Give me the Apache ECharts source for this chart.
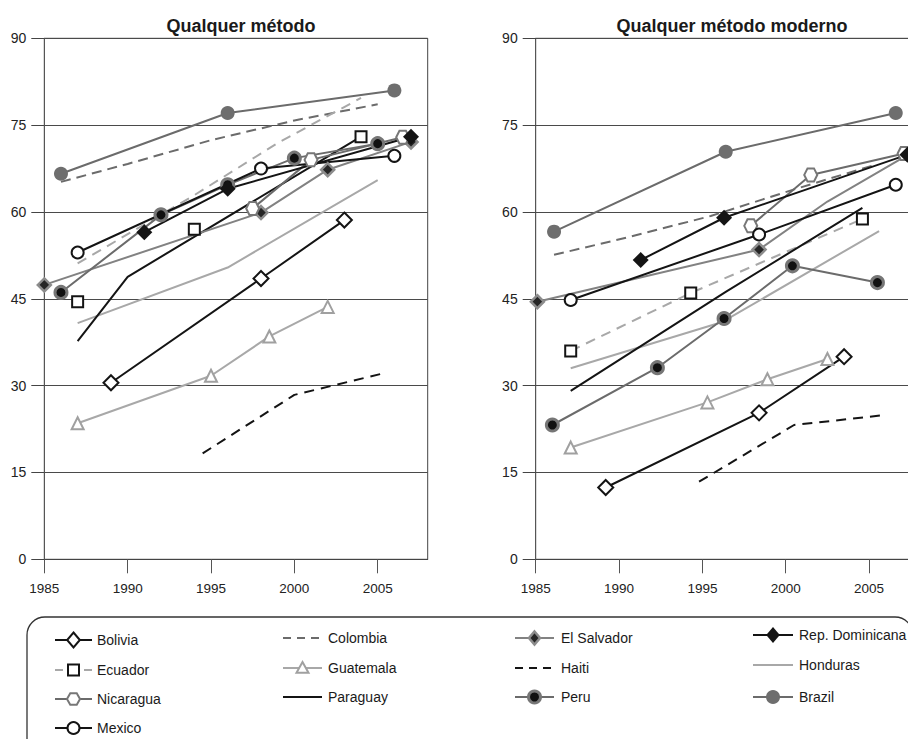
<!DOCTYPE html>
<html>
<head>
<meta charset="utf-8">
<script src="https://cdn.jsdelivr.net/npm/echarts@6/dist/echarts.min.js"></script>
<style>
  html, body { margin: 0; padding: 0; background: #fff; }
  #chart { width: 908px; height: 739px; }
</style>
</head>
<body>
<div id="chart"></div>
<script>
// Panel titles and axis ticks
const panelTitles = ['Qualquer método', 'Qualquer método moderno'];
const yearTicks = [1985, 1990, 1995, 2000, 2005];
const valueTicks = [0, 15, 30, 45, 60, 75, 90];

// Country names (legend order)
const countries = ['Bolivia', 'Colombia', 'El Salvador', 'Rep. Dominicana',
  'Ecuador', 'Guatemala', 'Haiti', 'Honduras',
  'Nicaragua', 'Paraguay', 'Peru', 'Brazil', 'Mexico'];

// Prevalence, any method: [survey year, %]
const boliviaAny = [[1989, 30.5], [1998, 48.5], [2003, 58.6]];
const colombiaAny = [[1986, 65.2], [1990, 68.3], [1995, 72.4], [2000, 75.8], [2005, 78.6]];
const elSalvadorAny = [[1985, 47.4], [1998, 59.9], [2002, 67.3], [2007, 72.1]];
const repDominicanaAny = [[1991, 56.5], [1996, 64.0], [2007, 73.0]];
const ecuadorAnyLine = [[1987, 51.1], [1994, 62.9], [1999, 71.9], [2004, 79.7]];
const ecuadorAnyPoints = [[1987, 44.5], [1994, 57.0], [2004, 73.0]];
const guatemalaAny = [[1987, 23.5], [1995, 31.7], [1998.5, 38.5], [2002, 43.6]];
const haitiAny = [[1994.5, 18.3], [2000, 28.4], [2005.3, 32.1]];
const hondurasAny = [[1987, 40.8], [1996, 50.4], [2005, 65.5]];
const nicaraguaAny = [[1997.5, 60.6], [2001, 69.0], [2006.5, 72.9]];
const paraguayAny = [[1987, 37.7], [1990, 48.8], [2004, 73.0]];
const peruAny = [[1986, 46.1], [1992, 59.5], [1996, 64.7], [2000, 69.3], [2005, 71.8]];
const brazilAny = [[1986, 66.6], [1996, 77.1], [2006, 81.0]];
const mexicoAny = [[1987, 53.0], [1998, 67.5], [2006, 69.7]];

// Prevalence, any modern method: [survey year, %]
const boliviaModern = [[1989.2, 12.4], [1998.4, 25.3], [2003.5, 35.0]];
const colombiaModern = [[1986.1, 52.6], [1990.5, 55.6], [1995.5, 59.3], [2000.5, 63.9], [2005.2, 68.0]];
const elSalvadorModern = [[1985.1, 44.5], [1998.4, 53.5], [2002.5, 61.8], [2007.3, 69.8]];
const repDominicanaModern = [[1991.3, 51.7], [1996.3, 59.0], [2007.3, 69.9]];
const ecuadorModernLine = [[1987.1, 36.0], [1994.3, 46.0], [2004.6, 58.8]];
const ecuadorModernPoints = [[1987.1, 36.0], [1994.3, 46.0], [2004.6, 58.8]];
const guatemalaModern = [[1987.1, 19.3], [1995.3, 27.1], [1998.9, 31.1], [2002.5, 34.6]];
const haitiModern = [[1994.8, 13.4], [2000.5, 23.2], [2005.9, 24.9]];
const hondurasModern = [[1987.1, 33.0], [1996.2, 41.0], [2005.6, 56.7]];
const nicaraguaModern = [[1997.9, 57.6], [2001.5, 66.4], [2007.1, 70.1]];
const paraguayModern = [[1987.1, 29.1], [1996.4, 46.2], [2004.6, 60.7]];
const peruModern = [[1986.0, 23.2], [1992.3, 33.1], [1996.3, 41.6], [2000.4, 50.7], [2005.5, 47.8]];
const brazilModern = [[1986.1, 56.6], [1996.4, 70.4], [2006.6, 77.1]];
const mexicoModern = [[1987.1, 44.8], [1998.4, 56.1], [2006.6, 64.7]];

const BLACK = '#141414';
const DARK = '#6b6b6b';
const MID = '#828282';
const LIGHT = '#a8a8a8';
const HEX = 'path://M-1,0L-0.5,-0.866L0.5,-0.866L1,0L0.5,0.866L-0.5,0.866Z';
const SANS = "'Liberation Sans', Arial, sans-serif";

// Drawing style of each country
const styles = {
  'Bolivia':         { color: BLACK, dash: null, symbol: 'diamond', size: 15, fill: '#fff', border: BLACK, bw: 2 },
  'Colombia':        { color: DARK, dash: [10, 6], symbol: 'none' },
  'El Salvador':     { color: MID, dash: null, symbol: 'diamond', size: 13, fill: '#262626', border: '#8c8c8c', bw: 2.5 },
  'Rep. Dominicana': { color: BLACK, dash: null, symbol: 'diamond', size: 16, fill: BLACK, border: BLACK, bw: 0 },
  'Ecuador':         { color: LIGHT, dash: [10, 7], symbol: 'rect', size: 11, fill: '#fff', border: BLACK, bw: 2 },
  'Guatemala':       { color: LIGHT, dash: null, symbol: 'triangle', size: 12, fill: '#fff', border: '#a0a0a0', bw: 2 },
  'Haiti':           { color: BLACK, dash: [10, 7], symbol: 'none' },
  'Honduras':        { color: LIGHT, dash: null, symbol: 'none' },
  'Nicaragua':       { color: DARK, dash: null, symbol: HEX, size: 13, fill: '#fff', border: '#777', bw: 2 },
  'Paraguay':        { color: BLACK, dash: null, symbol: 'none' },
  'Peru':            { color: DARK, dash: null, symbol: 'circle', size: 12, fill: '#111', border: '#767676', bw: 3 },
  'Brazil':          { color: DARK, dash: null, symbol: 'circle', size: 14, fill: '#6e6e6e', border: '#6e6e6e', bw: 0 },
  'Mexico':          { color: BLACK, dash: null, symbol: 'circle', size: 12, fill: '#fff', border: BLACK, bw: 2 }
};
// Points drawn on the line without a marker: [panel][country] -> point indexes
const unmarkedPoints = [{}, { 'El Salvador': [2, 3] }];

const panelData = [
  {
    'Bolivia': boliviaAny, 'Colombia': colombiaAny, 'El Salvador': elSalvadorAny,
    'Rep. Dominicana': repDominicanaAny, 'Ecuador': ecuadorAnyLine, 'Guatemala': guatemalaAny,
    'Haiti': haitiAny, 'Honduras': hondurasAny, 'Nicaragua': nicaraguaAny, 'Paraguay': paraguayAny,
    'Peru': peruAny, 'Brazil': brazilAny, 'Mexico': mexicoAny
  },
  {
    'Bolivia': boliviaModern, 'Colombia': colombiaModern, 'El Salvador': elSalvadorModern,
    'Rep. Dominicana': repDominicanaModern, 'Ecuador': ecuadorModernLine, 'Guatemala': guatemalaModern,
    'Haiti': haitiModern, 'Honduras': hondurasModern, 'Nicaragua': nicaraguaModern, 'Paraguay': paraguayModern,
    'Peru': peruModern, 'Brazil': brazilModern, 'Mexico': mexicoModern
  }
];
const ecuadorPoints = [ecuadorAnyPoints, ecuadorModernPoints];

// Drawing order (later on top)
const drawOrder = ['Honduras', 'Guatemala', 'Colombia', 'Haiti', 'Ecuador', 'Paraguay', 'Bolivia',
  'El Salvador', 'Nicaragua', 'Peru', 'Brazil', 'Mexico', 'Rep. Dominicana'];

const series = [];
for (let p = 0; p < 2; p++) {
  drawOrder.forEach(function (name) {
    const s = styles[name];
    const hasLineMarkers = s.symbol !== 'none' && name !== 'Ecuador';
    const hidden = unmarkedPoints[p][name] || [];
    const data = panelData[p][name].map(function (pt, k) {
      return hidden.indexOf(k) >= 0 ? { value: pt, symbol: 'none' } : pt;
    });
    series.push({
      name: name,
      type: 'line',
      xAxisIndex: p,
      yAxisIndex: p,
      data: data,
      symbol: hasLineMarkers ? s.symbol : 'none',
      symbolSize: s.size,
      showAllSymbol: true,
      lineStyle: { color: s.color, width: 2, type: s.dash || 'solid' },
      itemStyle: hasLineMarkers ? { color: s.fill, borderColor: s.border, borderWidth: s.bw } : { color: s.color },
      z: 3,
      silent: true
    });
    if (name === 'Ecuador') {
      series.push({
        name: name,
        type: 'line',
        xAxisIndex: p,
        yAxisIndex: p,
        data: ecuadorPoints[p],
        symbol: s.symbol,
        symbolSize: s.size,
        lineStyle: { width: 0, opacity: 0 },
        itemStyle: { color: s.fill, borderColor: s.border, borderWidth: s.bw },
        z: 4,
        silent: true
      });
    }
  });
}

function makeXAxis(i) {
  return {
    type: 'value', gridIndex: i, min: 1985, max: 2008, interval: 5,
    axisLine: { show: true, lineStyle: { color: '#444', width: 1 } },
    axisTick: { show: true, length: 14, customValues: yearTicks, lineStyle: { color: '#555' } },
    axisLabel: {
      customValues: yearTicks, margin: 22, fontFamily: SANS, fontSize: 13.5, color: '#222',
      formatter: function (v) { return String(v); }
    },
    splitLine: { show: false }
  };
}
function makeYAxis(i) {
  return {
    type: 'value', gridIndex: i, min: valueTicks[0], max: valueTicks[valueTicks.length - 1], interval: 15,
    axisLine: { show: true, lineStyle: { color: '#555', width: 1 } },
    axisTick: { show: true, length: 13, lineStyle: { color: '#444' } },
    axisLabel: { margin: 18, fontFamily: SANS, fontSize: 14, color: '#222' },
    splitLine: { show: true, lineStyle: { color: '#4a4a4a', width: 1 } }
  };
}

// Legend drawn as a framed block of samples
const legendCols = [
  { names: ['Bolivia', 'Ecuador', 'Nicaragua', 'Mexico'], x1: 55, x2: 92, tx: 97, ys: [640, 670, 699, 728] },
  { names: ['Colombia', 'Guatemala', 'Paraguay'], x1: 283, x2: 322, tx: 328, ys: [638, 668, 697] },
  { names: ['El Salvador', 'Haiti', 'Peru'], x1: 515, x2: 554, tx: 561, ys: [638, 668, 697] },
  { names: ['Rep. Dominicana', 'Honduras', 'Brazil'], x1: 753, x2: 793, tx: 799, ys: [635, 665, 697] }
];

function markerShape(s, cx, cy) {
  const r = s.size / 2;
  const st = { fill: s.fill, stroke: s.bw ? s.border : null, lineWidth: s.bw };
  if (s.symbol === 'circle') return { type: 'circle', shape: { cx: cx, cy: cy, r: r }, style: st };
  if (s.symbol === 'rect') return { type: 'rect', shape: { x: cx - r, y: cy - r, width: 2 * r, height: 2 * r }, style: st };
  if (s.symbol === 'diamond') return { type: 'polygon', shape: { points: [[cx, cy - r], [cx + r * 0.85, cy], [cx, cy + r], [cx - r * 0.85, cy]] }, style: st };
  if (s.symbol === 'triangle') return { type: 'polygon', shape: { points: [[cx, cy - r], [cx + r, cy + r * 0.8], [cx - r, cy + r * 0.8]] }, style: st };
  const pts = [];
  for (let k = 0; k < 6; k++) { const a = Math.PI / 3 * k; pts.push([cx + r * Math.cos(a), cy + r * Math.sin(a)]); }
  return { type: 'polygon', shape: { points: pts }, style: st };
}

const legendGraphics = [{
  type: 'rect', shape: { x: 27, y: 617, width: 886, height: 160, r: 18 },
  style: { fill: 'none', stroke: '#333', lineWidth: 1.3 }, z: 10
}];
legendCols.forEach(function (col) {
  col.names.forEach(function (name, j) {
    const s = styles[name];
    const y = col.ys[j];
    const cx = (col.x1 + col.x2) / 2;
    if (name === 'Ecuador') {
      legendGraphics.push({ type: 'line', shape: { x1: col.x1, y1: y, x2: col.x1 + 8, y2: y }, style: { stroke: s.color, lineWidth: 2 }, z: 10 });
      legendGraphics.push({ type: 'line', shape: { x1: col.x2 - 8, y1: y, x2: col.x2, y2: y }, style: { stroke: s.color, lineWidth: 2 }, z: 10 });
    } else {
      legendGraphics.push({
        type: 'line', shape: { x1: col.x1, y1: y, x2: col.x2, y2: y },
        style: { stroke: s.color, lineWidth: 2, lineDash: s.dash ? [8, 6] : null }, z: 10
      });
    }
    if (s.symbol !== 'none') {
      const m = markerShape(s, cx, y);
      m.z = 11;
      legendGraphics.push(m);
    }
    legendGraphics.push({
      type: 'text', x: col.tx, y: y, z: 11,
      style: { text: name, fontFamily: SANS, fontSize: 14, fill: '#1a1a1a', verticalAlign: 'middle', align: 'left' }
    });
  });
});

const chart = echarts.init(document.getElementById('chart'), null, { renderer: 'svg' });
chart.setOption({
  animation: false,
  backgroundColor: '#fff',
  title: [
    { text: panelTitles[0], left: 236, top: 12, textAlign: 'center',
      textStyle: { fontFamily: SANS, fontWeight: 'bold', fontSize: 18, color: '#1a1a1a' } },
    { text: panelTitles[1], left: 727, top: 12, textAlign: 'center',
      textStyle: { fontFamily: SANS, fontWeight: 'bold', fontSize: 18, color: '#1a1a1a' } }
  ],
  grid: [
    { left: 44.3, top: 38.3, width: 383.4, height: 521, outerBoundsMode: 'none',
      show: true, borderColor: '#444', borderWidth: 1, backgroundColor: 'transparent' },
    { left: 535.7, top: 38.3, width: 383.4, height: 521, outerBoundsMode: 'none',
      show: true, borderColor: '#444', borderWidth: 1, backgroundColor: 'transparent' }
  ],
  xAxis: [makeXAxis(0), makeXAxis(1)],
  yAxis: [makeYAxis(0), makeYAxis(1)],
  series: series,
  graphic: legendGraphics
});
</script>
</body>
</html>
